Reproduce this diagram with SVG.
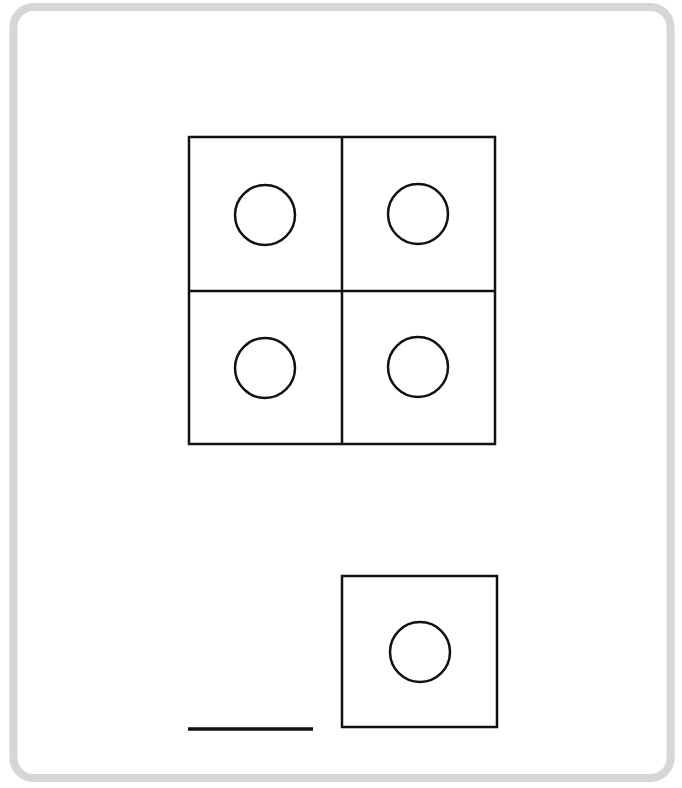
<svg xmlns="http://www.w3.org/2000/svg" width="682" height="788" viewBox="0 0 682 788">
<style>
.frame{fill:#fff;stroke:#d6d6d6;stroke-width:8}
.box{fill:none;stroke:#111;stroke-width:2.5}
.dot{fill:none;stroke:#111;stroke-width:2.5}
.blank{stroke:#111;stroke-width:3.5}
</style>
<rect x="0" y="0" width="682" height="788" fill="#fff"/>
<rect class="frame" x="13.5" y="7" width="657" height="771" rx="20"/>
<g id="grid">
<rect class="box" x="189" y="137" width="306" height="307"/>
<line class="box" x1="342" y1="137" x2="342" y2="444"/>
<line class="box" x1="189" y1="291" x2="495" y2="291"/>
</g>
<g id="cell-tl"><circle class="dot" cx="265" cy="215" r="30"/></g>
<g id="cell-tr"><circle class="dot" cx="418" cy="214" r="30"/></g>
<g id="cell-bl"><circle class="dot" cx="265" cy="368" r="30"/></g>
<g id="cell-br"><circle class="dot" cx="418" cy="367" r="30"/></g>
<g id="answer-blank"><line class="blank" x1="188" y1="729" x2="313" y2="729"/></g>
<g id="option">
<rect class="box" x="342" y="576" width="155" height="151"/>
<circle class="dot" cx="420" cy="652" r="30"/>
</g>
</svg>
